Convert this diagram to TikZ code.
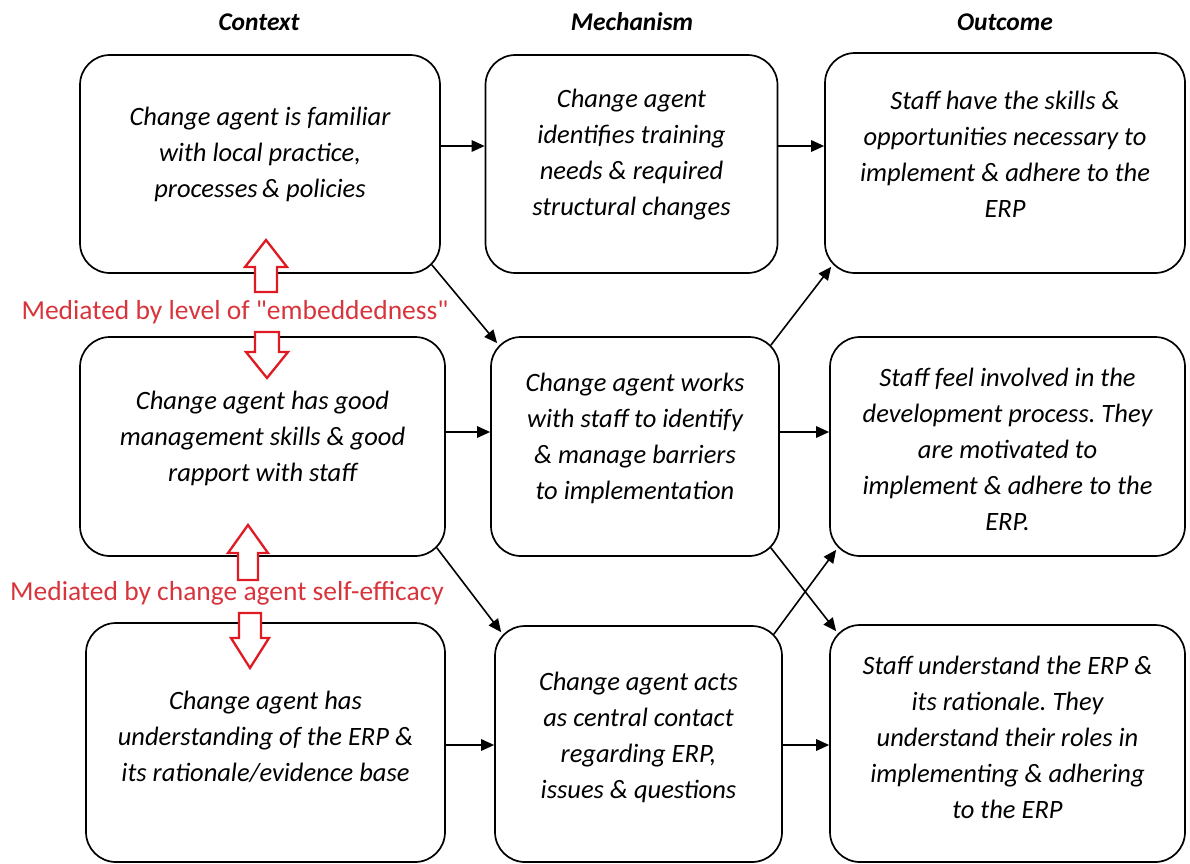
\documentclass[tikz,border=0pt]{standalone}
\usepackage{fontspec}
\setmainfont{Carlito}
\newfontfamily\notefont{Carlito}
\usetikzlibrary{arrows.meta,calc}
\definecolor{medred}{HTML}{D8343C}
\definecolor{blockred}{HTML}{E01A22}
\frenchspacing
\begin{document}
\begin{tikzpicture}[x=1pt,y=-1pt,
  box/.style={draw, line width=1.7pt, rounded corners=30pt, inner sep=0pt},
  boxtext/.style={align=center, inner sep=0pt,
    font=\fontsize{26.5}{36}\selectfont\itshape},
  head/.style={font=\fontsize{25.5}{28}\selectfont\bfseries\itshape},
  link/.style={-{Triangle[length=13pt,width=11.5pt]}, line width=1.6pt},
  note/.style={text=medred, font=\notefont\fontsize{27.5}{30}\selectfont, inner sep=1pt},
  blockarrow/.style={draw=blockred, line width=2.3pt, fill=white, line join=miter}
]
\useasboundingbox (0,0) rectangle (1190,863);

% column headings
\node[head] (hc) at (259,22) {Context};
\node[head] (hm) at (632,22) {Mechanism};
\node[head] (ho) at (1005,22) {Outcome};

% context column
\node[box, minimum width=360pt, minimum height=218pt] (c1) at (260,164) {};
\node[box, minimum width=365pt, minimum height=219pt] (c2) at (262.5,446.5) {};
\node[box, minimum width=359pt, minimum height=239pt] (c3) at (265.5,742.5) {};
\node[boxtext] (c1t) at ($(c1)+(0,-10)$)
  {Change agent is familiar\\with local practice,\\processes\,\& policies};
\node[boxtext] (c2t) at ($(c2)+(0,-8.5)$)
  {Change agent has good\\management skills \& good\\rapport with staff};
\node[boxtext] (c3t) at ($(c3)+(0,-5.5)$)
  {Change agent has\\understanding of the ERP \&\\its rationale/evidence base};

% mechanism column
\node[box, minimum width=292pt, minimum height=218pt] (m1) at (631.5,164) {};
\node[box, minimum width=288pt, minimum height=219pt] (m2) at (635,446.5) {};
\node[box, minimum width=287pt, minimum height=236pt] (m3) at (638.5,744) {};
\node[boxtext] (m1t) at ($(m1)+(0,-9)$)
  {Change agent\\identifies training\\needs \& required\\structural changes};
\node[boxtext] (m2t) at ($(m2)+(0,-8.5)$)
  {Change agent works\\with staff to identify\\\& manage barriers\\to implementation};
\node[boxtext] (m3t) at ($(m3)+(0,-7)$)
  {Change agent acts\\as central contact\\regarding ERP,\\issues \& questions};

% outcome column
\node[box, minimum width=360pt, minimum height=220pt] (o1) at (1005,163) {};
\node[box, minimum width=355pt, minimum height=219pt] (o2) at (1007.5,446.5) {};
\node[box, minimum width=355pt, minimum height=237pt] (o3) at (1007.5,743.5) {};
\node[boxtext] (o1t) at ($(o1)+(0,-9)$)
  {Staff have the skills \&\\opportunities necessary to\\implement \& adhere to the\\ERP};
\node[boxtext] (o2t) at ($(o2)+(0,2.5)$)
  {Staff feel involved in the\\development process. They\\are motivated to\\implement \& adhere to the\\ERP.};
\node[boxtext] (o3t) at ($(o3)+(0,-6.5)$)
  {Staff understand the ERP \&\\its rationale. They\\understand their roles in\\implementing \& adhering\\to the ERP};

% straight links along each row
\draw[link] (c1.east |- 0,146) -- (m1.west |- 0,146);
\draw[link] (m1.east |- 0,146) -- (o1.west |- 0,146);
\draw[link] (c2.east |- 0,432) -- (m2.west |- 0,432);
\draw[link] (m2.east |- 0,432) -- (o2.west |- 0,432);
\draw[link] (c3.east |- 0,745) -- (m3.west |- 0,745);
\draw[link] (m3.east |- 0,745) -- (o3.west |- 0,745);

% diagonal links leave and enter at the rounded corners
\draw[link] ($(c1.south east)+(-9,-9)$) -- ($(m2.north west)+(7,7)$);
\draw[link] ($(m2.north east)+(-9,9)$) -- ($(o1.south west)+(7,-7)$);
\draw[link] ($(c2.south east)+(-9,-9)$) -- ($(m3.north west)+(7,7)$);
\draw[link] ($(m2.south east)+(-9,-9)$) -- ($(o3.north west)+(7,7)$);
\draw[link] ($(m3.north east)+(-9,9)$) -- ($(o2.south west)+(7,-7)$);

% mediating factors between the context boxes
\draw[blockarrow] (255,292) -- (255,267) -- (245,267) -- (266,240) -- (287,267)
  -- (277,267) -- (277,292) -- cycle;
\draw[blockarrow] (255,332) -- (255,352) -- (246,352) -- (267,378) -- (288,352)
  -- (279,352) -- (279,332) -- cycle;
\node[note] (n1) at (235,312) {Mediated by level of "embeddedness"};

\draw[blockarrow] (238,580) -- (238,553) -- (228,553) -- (248,525) -- (268,553)
  -- (258,553) -- (258,580) -- cycle;
\draw[blockarrow] (239,613) -- (239,638) -- (231,638) -- (250,668) -- (269,638)
  -- (261,638) -- (261,613) -- cycle;
\node[note] (n2) at (227,593) {Mediated by change agent self-efficacy};
\end{tikzpicture}
\end{document}
